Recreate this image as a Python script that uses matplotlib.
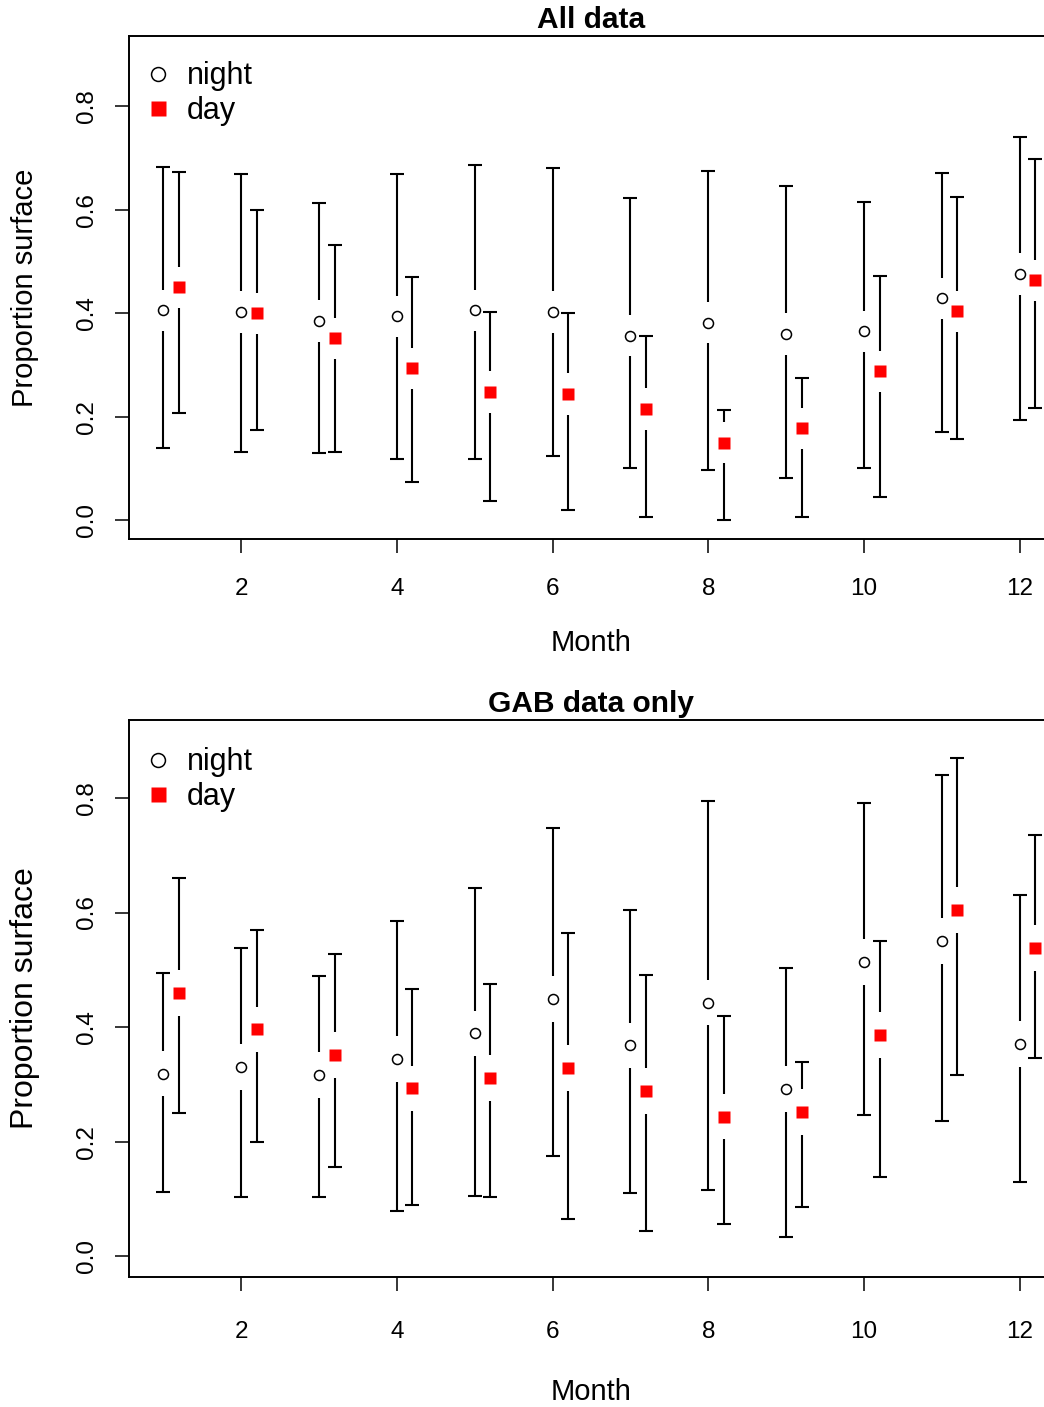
import matplotlib
matplotlib.use("Agg")
import matplotlib.pyplot as plt
from matplotlib.lines import Line2D

plt.rcParams['font.family'] = ['Liberation Sans', 'DejaVu Sans']

months = [1, 2, 3, 4, 5, 6, 7, 8, 9, 10, 11, 12]
xticks = [2, 4, 6, 8, 10, 12]
yticks = [0.0, 0.2, 0.4, 0.6, 0.8]
ytick_labels = ["0.0", "0.2", "0.4", "0.6", "0.8"]

# ---- All data ----
all_night_mean = [0.406, 0.403, 0.385, 0.394, 0.406, 0.403, 0.357, 0.382, 0.360, 0.365, 0.429, 0.476]
all_night_lo = [0.139, 0.133, 0.130, 0.119, 0.119, 0.124, 0.101, 0.098, 0.081, 0.101, 0.170, 0.194]
all_night_hi = [0.682, 0.670, 0.614, 0.670, 0.686, 0.681, 0.623, 0.675, 0.646, 0.616, 0.672, 0.741]
all_day_mean = [0.450, 0.400, 0.352, 0.294, 0.248, 0.244, 0.215, 0.150, 0.178, 0.288, 0.404, 0.464]
all_day_lo = [0.208, 0.174, 0.133, 0.075, 0.037, 0.020, 0.006, 0.000, 0.006, 0.046, 0.157, 0.217]
all_day_hi = [0.674, 0.600, 0.533, 0.470, 0.403, 0.400, 0.356, 0.213, 0.275, 0.472, 0.625, 0.699]

# ---- GAB data only ----
gab_night_mean = [0.319, 0.331, 0.316, 0.345, 0.389, 0.449, 0.368, 0.443, 0.292, 0.513, 0.550, 0.371]
gab_night_lo = [0.112, 0.104, 0.104, 0.080, 0.106, 0.176, 0.110, 0.115, 0.034, 0.246, 0.237, 0.130]
gab_night_hi = [0.495, 0.538, 0.490, 0.585, 0.643, 0.747, 0.605, 0.794, 0.504, 0.791, 0.840, 0.631]
gab_day_mean = [0.459, 0.396, 0.352, 0.293, 0.311, 0.328, 0.288, 0.244, 0.252, 0.387, 0.604, 0.538]
gab_day_lo = [0.251, 0.200, 0.156, 0.089, 0.104, 0.065, 0.045, 0.057, 0.087, 0.138, 0.316, 0.347]
gab_day_hi = [0.660, 0.570, 0.528, 0.466, 0.475, 0.565, 0.491, 0.419, 0.339, 0.550, 0.869, 0.736]

DAY_OFFSET = 0.2
GAP = 0.04
CAP = 0.09
LW = 1.5

W, H = 1044, 1407
fig = plt.figure(figsize=(W / 100, H / 100), dpi=100)


def fig_rect(left, top, right, bottom):
    return [left / W, 1 - bottom / H, (right - left) / W, (bottom - top) / H]


def draw_ci(ax, xs, mean, lo, hi):
    for x, m, l, h in zip(xs, mean, lo, hi):
        if h > m + GAP:
            ax.vlines(x, m + GAP, h, color='black', lw=LW)
        if l < m - GAP:
            ax.vlines(x, l, m - GAP, color='black', lw=LW)
        ax.hlines([l, h], x - CAP, x + CAP, color='black', lw=LW)


def panel(ax, title, nm, nlo, nhi, dm, dlo, dhi, xpad, ylab_size):
    xn = months
    xd = [m + DAY_OFFSET for m in months]
    draw_ci(ax, xn, nm, nlo, nhi)
    draw_ci(ax, xd, dm, dlo, dhi)
    ax.plot(xn, nm, linestyle='none', marker='o', ms=7.2, mfc='white',
            mec='black', mew=1.1, zorder=3)
    ax.plot(xd, dm, linestyle='none', marker='s', ms=8.6, mfc='red',
            mec='none', zorder=3)
    ax.set_xlim(0.56, 12.44)
    ax.set_ylim(-0.036, 0.936)
    ax.set_xticks(xticks)
    ax.set_xticklabels([str(t) for t in xticks], fontsize=17.5)
    ax.set_yticks(yticks)
    ax.set_yticklabels(ytick_labels, fontsize=17.5, rotation=90, va='center')
    ax.tick_params(axis='x', direction='out', length=10, width=1.1, pad=xpad)
    ax.tick_params(axis='y', direction='out', length=10, width=1.1, pad=12)
    for sp in ax.spines.values():
        sp.set_linewidth(1.4)
    ax.set_title(title, fontsize=21.5, fontweight='bold', pad=6)
    ax.set_xlabel('Month', fontsize=21, va='center')
    ax.xaxis.set_label_coords(0.5, -0.207)
    ax.set_ylabel('Proportion surface', fontsize=ylab_size, va='center')
    ax.yaxis.set_label_coords(-0.1124, 0.5)
    handles = [
        Line2D([], [], linestyle='none', marker='o', ms=10, mfc='white',
               mec='black', mew=1.1),
        Line2D([], [], linestyle='none', marker='s', ms=10.8, mfc='red',
               mec='none'),
    ]
    ax.legend(handles, ['night', 'day'], loc='upper left',
              bbox_to_anchor=(0.008, 0.962), frameon=False, fontsize=22,
              handlelength=1.0, handletextpad=0.45, labelspacing=0.15,
              borderpad=0.2, borderaxespad=0)


ax1 = fig.add_axes(fig_rect(129, 36, 1054, 539))
panel(ax1, 'All data', all_night_mean, all_night_lo, all_night_hi,
      all_day_mean, all_day_lo, all_day_hi, 18, 21)

ax2 = fig.add_axes(fig_rect(129, 720, 1054, 1277))
panel(ax2, 'GAB data only', gab_night_mean, gab_night_lo, gab_night_hi,
      gab_day_mean, gab_day_lo, gab_day_hi, 22, 23)

fig.savefig('out.png', dpi=100)
